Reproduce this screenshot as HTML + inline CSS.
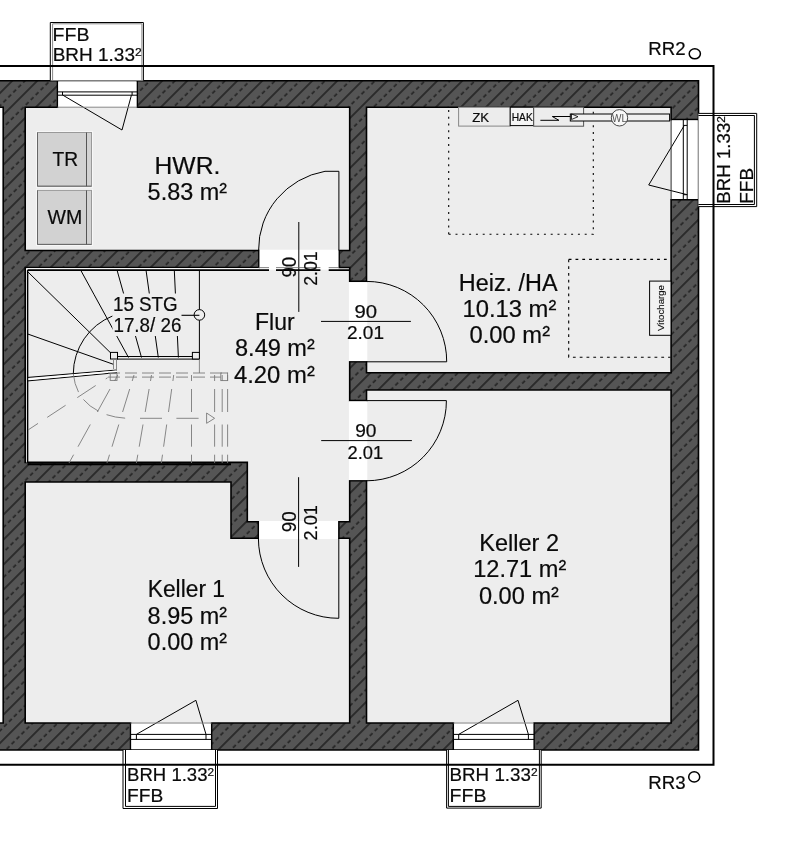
<!DOCTYPE html>
<html><head><meta charset="utf-8">
<style>
html,body{margin:0;padding:0;background:#fff;width:788px;height:845px;overflow:hidden}
svg{display:block;will-change:transform}
text{font-family:"Liberation Sans",sans-serif;fill:#0a0a0a;stroke:#0a0a0a;stroke-width:0.2px}
</style></head>
<body>
<svg width="788" height="845" viewBox="0 0 788 845">
<defs>
<pattern id="h" patternUnits="userSpaceOnUse" width="42" height="17.678" patternTransform="rotate(-45)">
<rect width="42" height="17.678" fill="#555"/>
<line x1="0" y1="12.87" x2="42" y2="12.87" stroke="#000" stroke-width="1.0"/>
<line x1="0" y1="4.03" x2="42" y2="4.03" stroke="#000" stroke-width="0.95" stroke-dasharray="4 3"/>
</pattern>
</defs>
<rect width="788" height="845" fill="#fff"/>

<!-- room floor -->
<rect x="3.2" y="80.7" width="695.3" height="669.3" fill="#ededed"/>

<!-- walls -->
<g fill="url(#h)" stroke="#000" stroke-width="1.6" stroke-linejoin="miter">
<path d="M-5,80.7 H57.5 V107.2 H25.2 V250.5 H258.9 V267.5 H25.2 V462.4 H247.3 V521.8 H258.4 V538.3 H231 V482 H25.2 V723 H130.6 V750 H-5 V723 H3.2 V107.2 H-5 Z"/>
<path d="M137.2,80.7 H698.5 V119.6 H671.1 V107.2 H366.5 V281.4 H349.7 V267.5 H339.1 V250.5 H349.7 V107.2 H137.2 Z"/>
<path d="M671.1,199.7 H698.5 V750 H534 V723 H671.1 V390 H366.5 V400.6 H349.7 V361.8 H366.5 V372.7 H671.1 Z"/>
<path d="M211.6,723 H349.7 V538.3 H338.8 V521.8 H349.7 V480.8 H366.5 V723 H453.4 V750 H211.6 Z"/>
</g>

<!-- openings -->
<g fill="#fff">
<rect x="58.2" y="81.4" width="78.3" height="25.7"/>
<rect x="671.8" y="120.3" width="26" height="78.7"/>
<rect x="131.3" y="723.7" width="79.6" height="25.6"/>
<rect x="454.1" y="723.7" width="79.2" height="25.6"/>
<rect x="259.6" y="249.7" width="78.8" height="20"/>
<rect x="348.9" y="282.1" width="18.4" height="79"/>
<rect x="348.9" y="401.3" width="18.4" height="78.8"/>
<rect x="259.1" y="521" width="79" height="18.1"/>
</g>

<!-- windows -->
<g fill="none" stroke="#000" stroke-width="1.3">
<path d="M57.5,80.7 H137.2 M698.5,119.6 V199.7 M130.6,750 H211.6 M453.4,750 H534"/>
</g>
<g fill="none" stroke="#000" stroke-width="1">
<path d="M57.5,91.9 H137.2 M57.5,95.2 H137.2 M62.5,91.9 V95.2 M132.1,91.9 V95.2" />
<path d="M62.9,95.2 L122,130 L131.4,95.2" />
<path d="M57.5,107.2 H137.2" stroke="#888"/>
<path d="M683.3,120 V199.2 M687.2,120 V199.2 M683.3,125.4 H687.2 M683.3,194.7 H687.2" />
<path d="M684.3,125.4 L648.7,185 L687.2,194.7" />
<path d="M671.1,119.6 V199.7" stroke="#333"/>
<path d="M130.6,734.4 H211.6 M130.6,739.4 H211.6 M136.4,734.4 V739.4 M206,734.4 V739.4" />
<path d="M136.4,734.4 L195.9,700.3 L206,734.4" />
<path d="M130.6,723 H211.6" stroke="#888"/>
<path d="M453.4,734.4 H534 M453.4,739.4 H534 M458.7,734.4 V739.4 M528.4,734.4 V739.4" />
<path d="M458.7,734.4 L518,700.3 L528.4,734.4" />
<path d="M453.4,723 H534" stroke="#888"/>
</g>

<!-- label boxes -->
<g fill="#fff" stroke="none">
<rect x="50.3" y="22.5" width="93.1" height="58"/>
<rect x="698.4" y="113.4" width="58.3" height="93.2"/>
<rect x="123" y="750" width="94.5" height="58.5"/>
<rect x="446.6" y="750" width="94.6" height="58.3"/>
</g>
<g fill="none" stroke="#000" stroke-width="1">
<path d="M50.3,80.5 V22.5 H143.4 V80.5"/>
<path d="M52.6,80.5 V23.8 H141.9 V80.5" stroke="#888"/>
<path d="M698.4,113.4 H756.7 V206.6 H698.4"/>
<path d="M698.4,115.5 H754.4 V204.5 H698.4"/>
<path d="M123,750 V808.5 H217.5 V750"/>
<path d="M125.5,750 V806.4 H215.5 V750"/>
<path d="M446.6,750 V808.1 H541.2 V750"/>
<path d="M448.4,750 V806.4 H539.4 V750"/>
</g>
<!-- outer thin line -->
<path d="M0,66 H713.5 V764.8 H0" fill="none" stroke="#000" stroke-width="2"/>
<ellipse cx="694.8" cy="53.8" rx="5.6" ry="5.0" fill="none" stroke="#000" stroke-width="1.5"/>
<ellipse cx="694.2" cy="776.9" rx="5.5" ry="5.2" fill="none" stroke="#000" stroke-width="1.5"/>

<!-- TR / WM -->
<g fill="none" stroke="#f7f7f7" stroke-width="3.2">
<rect x="37.5" y="132.5" width="54" height="53.7"/>
<rect x="37.5" y="190.4" width="54" height="54"/>
</g>
<g fill="#d2d2d2" stroke="#999" stroke-width="1">
<rect x="37.5" y="132.5" width="54" height="53.7"/>
<rect x="37.5" y="190.4" width="54" height="54"/>
</g>
<path d="M37.5,132.5 V186.2 H91.5 M37.5,190.4 V244.4 H91.5" fill="none" stroke="#666" stroke-width="1"/>
<path d="M86.5,132.5 V186.2 M86.5,190.4 V244.4" stroke="#555" stroke-width="1"/>
<!-- doors -->
<g fill="none" stroke="#000" stroke-width="1">
<path d="M338.9,250.5 V171.3 H325 A80.3,79.2 0 0 0 258.6,250.5"/>
<path d="M366.5,361.8 H446.7 A80,80 0 0 0 366.5,281.4"/>
<path d="M366.5,400.6 H446.4 A80,80 0 0 1 366.5,480.8"/>
<path d="M338.8,538.3 V618.3 A80,80 0 0 1 258.4,538.3"/>
</g>
<g stroke="#000" stroke-width="1">
<path d="M298.8,222 V311.9"/>
<path d="M321,321.4 H410.9"/>
<path d="M321.2,440.6 H411.9"/>
<path d="M298.6,477.2 V566.9"/>
</g>

<!-- Heiz equipment -->
<g fill="none" stroke="#000" stroke-width="1.1">
<path d="M448.7,234.3 V108 M448.7,234.3 H593.3 V108" stroke-dasharray="2 4.8"/>
<path d="M568.7,259.4 V357.2 H670.5 M568.7,259.4 H670.5" stroke-dasharray="2.8 4"/>
</g>
<rect x="458.6" y="107.2" width="51.6" height="18.9" fill="#ececec" stroke="#888" stroke-width="1"/>
<rect x="510.2" y="107.2" width="23.5" height="18.4" fill="#f4f4f4" stroke="#000" stroke-width="1"/>
<rect x="533.7" y="107.2" width="49.9" height="19" fill="#ededed" stroke="#555" stroke-width="1"/>
<path d="M540.4,120.3 H558.9 L552.3,116.5 H571.3" fill="none" stroke="#000" stroke-width="1"/>
<rect x="570.3" y="114" width="99.3" height="7" fill="#f0f0f0" stroke="#000" stroke-width="1"/>
<path d="M571.5,113.9 L578,116.7 L571.5,119.5 Z" fill="none" stroke="#000" stroke-width="0.8"/>
<circle cx="619.5" cy="117.8" r="8.2" fill="#f8f8f8" stroke="#333" stroke-width="0.9"/>
<text x="619.5" y="121.5" font-size="10" text-anchor="middle" style="fill:#555;stroke:none">WL</text>
<rect x="649.6" y="281.1" width="21.4" height="54.2" fill="#f2f2f2" stroke="#000" stroke-width="1"/>
<text transform="translate(663.9,331) rotate(-90) scale(1.05,1)" font-size="9.2" style="fill:#111;stroke:#111;stroke-width:0.15px">Vitocharge</text>

<!-- stairs -->
<path d="M26.6,268.6 H258.9 M26.6,268.6 V462.4" stroke="#fff" stroke-width="1"/>
<g fill="none" stroke="#000" stroke-width="1">
<path d="M27.6,270.1 H269 M276,270.1 H320.4 M328.7,270.1 H349.7" stroke-width="1.6"/>
<path d="M258.6,267.6 H269 M276,267.6 H320.4 M328.7,267.6 H338.8" stroke="#666" stroke-width="0.8"/>
<path d="M27.6,270.1 V462.4" stroke-width="1.5"/>
<path d="M27.6,464.2 H231" stroke-width="2"/>
<path d="M28,272 L113.4,355.6"/>
<path d="M80.6,270 Q108,320 128.5,357.5"/>
<path d="M117,270 L141.5,357.5"/>
<path d="M146,270 L158.3,357.5"/>
<path d="M174.3,270 L178.4,357.5"/>
<path d="M28,334.1 L113.4,364.3"/>
<path d="M28,377.4 L117,370 M28,380.9 L117,372.6"/>
<path d="M117,356.5 H199.4 M117,359.1 H199.4"/>
<path d="M199.4,270 V358.6"/>

<path d="M112.7,315.9 A62.5,62.5 0 0 0 73.3,373.8"/>
</g>
<path d="M28.5,379.2 L116.5,371.3" stroke="#fff" stroke-width="1.6"/>
<rect x="110.5" y="352.4" width="7" height="6.6" fill="#eee" stroke="#000" stroke-width="1"/>
<rect x="192.4" y="352.4" width="7" height="6.6" fill="#eee" stroke="#000" stroke-width="1"/>
<circle cx="199.4" cy="314.9" r="5.3" fill="#eee" stroke="#000" stroke-width="1"/>
<path d="M181,315.3 H199.4" stroke="#000" stroke-width="1.1"/>
<rect x="112.5" y="293.5" width="69" height="42.5" fill="#ededed"/>
<g fill="none" stroke="#7a7a7a" stroke-width="0.9">
<path d="M117.8,375.0 L114.5,381.0 M110.0,389.0 L97.3,412.0 M90.3,424.5 L78.0,446.7 M73.6,454.7 L69.0,463.0 M134.0,375.0 L132.2,381.0 M129.7,389.0 L122.6,412.0 M118.8,424.5 L112.0,446.7 M109.5,454.7 L107.0,463.0 M151.5,375.0 L150.5,381.0 M149.1,389.0 L145.2,412.0 M143.0,424.5 L139.2,446.7 M137.8,454.7 L136.4,463.0 M173.7,375.0 L172.9,381.0 M171.7,389.0 L168.5,412.0 M166.7,424.5 L163.6,446.7 M162.5,454.7 L161.3,463.0 M191.5,375.0 L191.5,381.0 M191.5,389.0 L191.5,412.0 M191.5,424.5 L191.5,446.7 M191.5,454.7 L191.5,463.0 M214.6,375.0 L214.6,381.0 M214.6,389.0 L214.6,412.0 M214.6,424.5 L214.6,446.7 M214.6,454.7 L214.6,463.0 M222.2,375.0 L222.2,381.0 M222.2,389.0 L222.2,412.0 M222.2,424.5 L222.2,446.7 M222.2,454.7 L222.2,463.0 M227.6,375.0 L227.6,381.0 M227.6,389.0 L227.6,412.0 M227.6,424.5 L227.6,446.7 M227.6,454.7 L227.6,463.0"/>
<path d="M199.4,359.5 V373"/>
<path d="M108,373 H227.6 M108,377.1 H220.8" stroke-dasharray="12 5"/>
<path d="M28,430 L107.6,377.7" stroke-dasharray="12 11 22 14 22 12"/>
<path d="M73.3,373.8 Q76,400 98.8,411.3 Q112,418.3 130,418.3" stroke-dasharray="19 9"/>
<path d="M140,418.3 H162 M176.4,418.3 H198.6"/>
<path d="M206.6,413 L214.6,418.3 L206.6,423.3 Z"/>
<rect x="220.8" y="373" width="6.8" height="7.6"/>
<rect x="110.2" y="373.6" width="6.8" height="6.8"/>
<path d="M113.5,359 V369 M116.5,359 V369"/>
</g>
<text transform="translate(52.62,40.90) scale(1.0844,1)" font-size="18">FFB</text>
<text transform="translate(52.64,61.40) scale(1.0554,1)" font-size="18">BRH 1.33<tspan font-size="11.5" dy="-5">2</tspan></text>
<text transform="translate(127.07,780.60) scale(1.0313,1)" font-size="18">BRH 1.33<tspan font-size="11.5" dy="-5">2</tspan></text>
<text transform="translate(127.03,801.90) scale(1.0656,1)" font-size="18">FFB</text>
<text transform="translate(449.56,780.60) scale(1.0434,1)" font-size="18">BRH 1.33<tspan font-size="11.5" dy="-5">2</tspan></text>
<text transform="translate(449.51,801.90) scale(1.0875,1)" font-size="18">FFB</text>
<text transform="translate(730.40,203.74) rotate(-90) scale(1.0386,1)" font-size="18">BRH 1.33<tspan font-size="11.5" dy="-5">2</tspan></text>
<text transform="translate(752.60,203.75) rotate(-90) scale(1.0531,1)" font-size="18">FFB</text>
<text transform="translate(648.36,54.60) scale(1.0382,1)" font-size="18">RR2</text>
<text transform="translate(648.36,788.60) scale(1.0382,1)" font-size="18">RR3</text>
<text transform="translate(52.50,166.00) scale(0.9840,1)" font-size="19.5">TR</text>
<text transform="translate(47.50,223.70) scale(1.0030,1)" font-size="19.5">WM</text>
<text transform="translate(154.54,173.80) scale(1.0283,1)" font-size="24">HWR.</text>
<text transform="translate(147.62,200.10) scale(0.9762,1)" font-size="24">5.83 m²</text>
<text transform="translate(255.09,330.20) scale(0.9564,1)" font-size="24">Flur</text>
<text transform="translate(235.02,356.30) scale(0.9812,1)" font-size="24">8.49 m²</text>
<text transform="translate(233.91,383.00) scale(0.9950,1)" font-size="24">4.20 m²</text>
<text transform="translate(458.75,290.50) scale(0.9758,1)" font-size="24">Heiz. /HA</text>
<text transform="translate(462.42,317.00) scale(0.9924,1)" font-size="24">10.13 m²</text>
<text transform="translate(469.51,342.90) scale(0.9900,1)" font-size="24">0.00 m²</text>
<text transform="translate(147.70,597.40) scale(0.9513,1)" font-size="24">Keller 1</text>
<text transform="translate(147.62,623.60) scale(0.9762,1)" font-size="24">8.95 m²</text>
<text transform="translate(147.62,650.00) scale(0.9762,1)" font-size="24">0.00 m²</text>
<text transform="translate(479.34,551.10) scale(0.9795,1)" font-size="24">Keller 2</text>
<text transform="translate(473.13,577.40) scale(0.9848,1)" font-size="24">12.71 m²</text>
<text transform="translate(478.92,603.50) scale(0.9838,1)" font-size="24">0.00 m²</text>
<text transform="translate(354.54,317.60) scale(1.1611,1)" font-size="17.5">90</text>
<text transform="translate(347.01,338.50) scale(1.0875,1)" font-size="17.5">2.01</text>
<text transform="translate(355.21,436.80) scale(1.0944,1)" font-size="17.5">90</text>
<text transform="translate(347.55,458.50) scale(1.0469,1)" font-size="17.5">2.01</text>
<text transform="translate(295.50,277.56) rotate(-90) scale(0.9550,1)" font-size="19.5">90</text>
<text transform="translate(316.50,285.86) rotate(-90) scale(0.9618,1)" font-size="18.5">2.01</text>
<text transform="translate(296.10,532.37) rotate(-90) scale(0.9700,1)" font-size="19.5">90</text>
<text transform="translate(317.10,540.49) rotate(-90) scale(0.9853,1)" font-size="18.5">2.01</text>
<text transform="translate(112.94,311.10) scale(0.9646,1)" font-size="19.5">15 STG</text>
<text transform="translate(113.43,331.90) scale(0.9652,1)" font-size="19.5">17.8/ 26</text>
<text transform="translate(472.30,122.00) scale(1.1000,1)" font-size="12">ZK</text>
<text transform="translate(511.73,120.60) scale(0.9750,1)" font-size="10.5">HAK</text>
</svg>

</body></html>
